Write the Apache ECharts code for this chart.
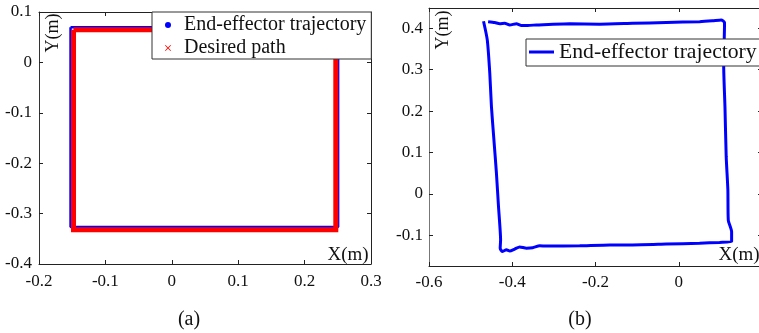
<!DOCTYPE html>
<html>
<head>
<meta charset="utf-8">
<script src="https://cdn.jsdelivr.net/npm/echarts@6/dist/echarts.min.js"></script>
<style>
html,body{margin:0;padding:0;background:#fff;}
#c{width:759px;height:333px;}
</style>
</head>
<body>
<div id="c"></div>
<script>
// ---- Data (a) ----
const leftXTicks = [-0.2, -0.1, 0, 0.1, 0.2, 0.3];
const leftYTicks = [-0.4, -0.3, -0.2, -0.1, 0, 0.1];
const eeX = [-0.1525, 0.2505, 0.2505, -0.1525, -0.1525];
const eeY = [0.0695, 0.0695, -0.3265, -0.3265, 0.0695];
const desiredX = [-0.148, 0.247, 0.247, -0.148, -0.148];
const desiredY = [0.065, 0.065, -0.332, -0.332, 0.065];

// ---- Data (b) ----
const rightXTicks = [-0.6, -0.4, -0.2, 0, 0.2];
const rightXLabels = [-0.6, -0.4, -0.2, 0];
const rightYTicks = [-0.1, 0, 0.1, 0.2, 0.3, 0.4];
const trajX = [-0.469, -0.460, -0.454, -0.450, -0.444, -0.438, -0.433, -0.428, -0.429, -0.424,
  -0.414, -0.406, -0.394, -0.382, -0.366, -0.351, -0.334, -0.318, -0.238, -0.166, -0.111, -0.030, 0.050, 0.098, 0.127,
  0.127, 0.119, 0.118, 0.114, 0.111, 0.108, 0.110, 0.102,
  0.081, 0.050, -0.030, -0.111, -0.190, -0.262, -0.342, -0.363, -0.378, -0.390, -0.406, -0.418, -0.430, -0.442, -0.458];
const trajY = [0.417, 0.372, 0.292, 0.211, 0.130, 0.050, -0.031, -0.111, -0.131, -0.139,
  -0.135, -0.138, -0.133, -0.128, -0.131, -0.130, -0.125, -0.126, -0.125, -0.123, -0.123, -0.121, -0.119, -0.117, -0.115,
  -0.091, -0.063, 0.010, 0.090, 0.211, 0.308, 0.414, 0.420,
  0.418, 0.416, 0.414, 0.412, 0.410, 0.411, 0.408, 0.407, 0.407, 0.411, 0.408, 0.412, 0.411, 0.414, 0.416];

const zip = (xs, ys) => xs.map((x, i) => [x, ys[i]]);
const FONT = 'Liberation Serif';
const fmt = v => { const r = Math.round(v * 1000) / 1000; return String(r); };

function ax(grid, ticks, labels, min, max, pos, showLabel, margin, lineColor) {
  return {
    type: 'value', gridIndex: grid, position: pos, min: min, max: max,
    axisLine: { show: true, onZero: false, lineStyle: { color: lineColor, width: 1 } },
    axisTick: { show: true, inside: true, length: 4, customValues: ticks, lineStyle: { color: '#222' } },
    axisLabel: { show: showLabel, customValues: labels, margin: margin, formatter: fmt,
      fontFamily: FONT, fontSize: 17, color: '#111' },
    splitLine: { show: false }
  };
}

const xIcon = 'path://M0,1 L1,0 L5,4 L9,0 L10,1 L6,5 L10,9 L9,10 L5,6 L1,10 L0,9 L4,5 Z';

const option = {
  animation: false,
  backgroundColor: '#fff',
  grid: [
    { left: 39, top: 12, width: 332, height: 252, containLabel: false, outerBoundsMode: 'none' },
    { left: 429, top: 8, width: 333, height: 258, containLabel: false, outerBoundsMode: 'none' }
  ],
  xAxis: [
    ax(0, leftXTicks, leftXTicks, -0.2, 0.3, 'bottom', true, 9, '#222'),
    ax(0, leftXTicks, leftXTicks, -0.2, 0.3, 'top', false, 8, '#222'),
    ax(1, rightXTicks, rightXLabels, -0.6, 0.2, 'bottom', true, 8, '#222'),
    ax(1, rightXTicks, rightXLabels, -0.6, 0.2, 'top', false, 8, '#222')
  ],
  yAxis: [
    ax(0, leftYTicks, leftYTicks, -0.4, 0.1, 'left', true, 7, '#333'),
    ax(0, leftYTicks, leftYTicks, -0.4, 0.1, 'right', false, 8, '#222'),
    ax(1, rightYTicks, rightYTicks, -0.174, 0.449, 'left', true, 6, '#777'),
    ax(1, rightYTicks, rightYTicks, -0.174, 0.449, 'right', false, 8, '#222')
  ],
  legend: [
    {
      left: 152, top: 12, orient: 'vertical',
      padding: [3, 5, 1, 13], itemGap: 3, itemWidth: 22, itemHeight: 6,
      backgroundColor: '#fff', borderColor: '#333', borderWidth: 1, borderRadius: 0,
      textStyle: { fontFamily: FONT, fontSize: 20, color: '#111' },
      selectedMode: false,
      data: [
        { name: 'End-effector trajectory', icon: 'circle', itemStyle: { color: '#0000ff' } },
        { name: 'Desired path', icon: xIcon, itemStyle: { color: '#ff0000' } }
      ]
    },
    {
      left: 526, top: 39, orient: 'horizontal',
      padding: [2, 3, 3, 3], itemWidth: 25, itemHeight: 3,
      backgroundColor: '#fff', borderColor: '#333', borderWidth: 1, borderRadius: 0,
      textStyle: { fontFamily: FONT, fontSize: 21.7, color: '#111' },
      selectedMode: false,
      data: [ { name: 'End-effector trajectory', icon: 'rect', itemStyle: { color: '#0000ff' } } ]
    }
  ],
  graphic: [
    { type: 'text', x: 53, y: 33, rotation: Math.PI / 2,
      style: { text: 'Y(m)', font: '18px "Liberation Serif"', fill: '#111', textAlign: 'center', textVerticalAlign: 'middle' } },
    { type: 'text', x: 348, y: 255,
      style: { text: 'X(m)', font: '19px "Liberation Serif"', fill: '#111', textAlign: 'center', textVerticalAlign: 'middle' } },
    { type: 'text', x: 443, y: 30, rotation: Math.PI / 2,
      style: { text: 'Y(m)', font: '18px "Liberation Serif"', fill: '#111', textAlign: 'center', textVerticalAlign: 'middle' } },
    { type: 'text', x: 739, y: 255,
      style: { text: 'X(m)', font: '19px "Liberation Serif"', fill: '#111', textAlign: 'center', textVerticalAlign: 'middle' } },
    { type: 'text', x: 189, y: 320,
      style: { text: '(a)', font: '20px "Liberation Serif"', fill: '#111', textAlign: 'center', textVerticalAlign: 'middle' } },
    { type: 'text', x: 580, y: 320,
      style: { text: '(b)', font: '20px "Liberation Serif"', fill: '#111', textAlign: 'center', textVerticalAlign: 'middle' } }
  ],
  series: [
    { name: 'End-effector trajectory', type: 'line', xAxisIndex: 0, yAxisIndex: 0,
      data: zip(eeX, eeY), showSymbol: false, symbol: 'none',
      lineStyle: { color: '#0000ff', width: 2.5 }, itemStyle: { color: '#0000ff' }, z: 2 },
    { name: 'Desired path', type: 'line', xAxisIndex: 0, yAxisIndex: 0,
      data: zip(desiredX, desiredY), showSymbol: false, symbol: 'none',
      lineStyle: { color: '#ff0000', width: 5, join: 'miter' }, itemStyle: { color: '#ff0000' }, z: 3 },
    { name: 'End-effector trajectory', type: 'line', xAxisIndex: 2, yAxisIndex: 2,
      data: zip(trajX, trajY), showSymbol: false, symbol: 'none', smooth: 0.2,
      lineStyle: { color: '#0000ff', width: 3 }, itemStyle: { color: '#0000ff' }, z: 2 }
  ]
};

const chart = echarts.init(document.getElementById('c'), null, { renderer: 'canvas' });
chart.setOption(option);
</script>
</body>
</html>
